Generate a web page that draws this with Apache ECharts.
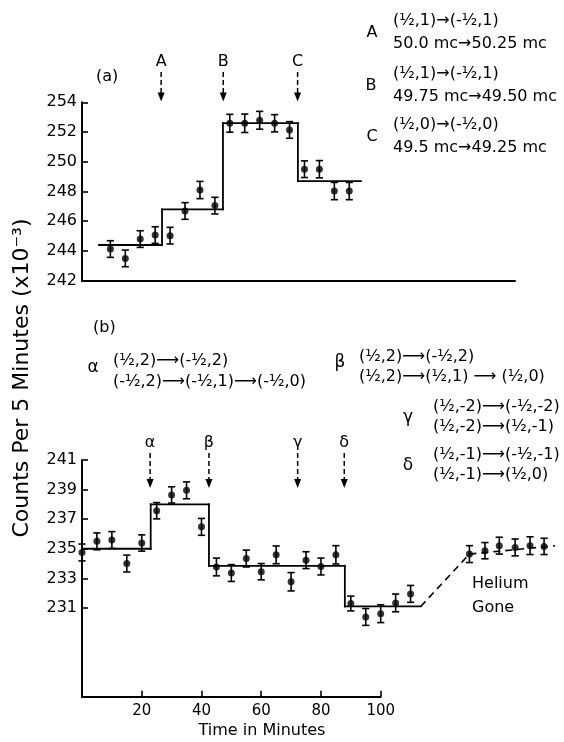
<!DOCTYPE html>
<html><head><meta charset="utf-8">
<script src="https://cdn.jsdelivr.net/npm/echarts@6/dist/echarts.min.js"></script>
<style>html,body{margin:0;padding:0;background:#fff}#c{width:564px;height:742px}</style>
</head><body><div id="c"></div>
<script>
// ---------- Panel (a) ----------
const aTimes = [9.5,14.5,19.5,24.5,29.5,34.5,39.5,44.5,49.5,54.5,59.5,64.5,69.5,74.5,79.5,84.5,89.5];
const aCounts = [244.13,243.5,244.8,245.07,245.03,246.69,248.1,247.05,252.59,252.59,252.79,252.59,252.14,249.5,249.5,248.03,248.03];
const aErrors = [0.56,0.56,0.56,0.56,0.56,0.56,0.58,0.56,0.6,0.62,0.6,0.58,0.56,0.56,0.58,0.58,0.58];
const aStepEdges = [5.7,26.8,47.2,72.3,93.4];
const aStepLevels = [244.4,246.8,252.6,248.7];
const aYTicks = [242,244,246,248,250,252,254];
const aArrowTimes = [26.5,47.3,72.2];
const aArrowLabels = ['A','B','C'];

// ---------- Panel (b) ----------
const bTimes = [0,5,10,15,20,25,30,35,40,45,50,55,60,65,70,75,80,85,90,95,100,105,110];
const bCounts = [234.75,235.5,235.59,234.0,235.39,237.57,238.64,238.95,236.48,233.77,233.36,234.34,233.45,234.59,232.77,234.23,233.8,234.59,231.3,230.39,230.61,231.34,231.95];
const bErrors = [0.57,0.57,0.57,0.57,0.55,0.55,0.55,0.57,0.57,0.6,0.57,0.57,0.55,0.6,0.62,0.57,0.57,0.62,0.5,0.57,0.6,0.6,0.57];
const bStepEdges = [0,23,42.5,88,113.4];
const bStepLevels = [235.0,238.0,233.85,231.1];
const heliumTimes = [129.7,134.9,139.7,145,150,154.7];
const heliumCounts = [234.64,234.87,235.21,235.09,235.21,235.16];
const heliumErrors = [0.57,0.55,0.57,0.57,0.6,0.55];
const heliumDashTimes = [113.4,129.7,158.4];
const heliumDashCounts = [231.1,234.64,235.2];
const bXTicks = [20,40,60,80,100];
const bYTicks = [231,233,235,237,239,241];
const bArrowTimes = [22.8,42.5,72.2,87.8];
const bArrowLabels = ['α','β','γ','δ'];

const FONT = 'DejaVu Sans';
const chart = echarts.init(document.getElementById('c'), null, {renderer:'canvas'});

function stepPoints(edges, levels){
  const out = [];
  for (let i = 0; i < levels.length; i++){
    out.push([edges[i], levels[i]]);
    out.push([edges[i+1], levels[i]]);
  }
  return out;
}
function segments(points){
  const out = [];
  for (let i = 0; i < points.length-1; i++){
    out.push([points[i][0], points[i][1], points[i+1][0], points[i+1][1]]);
  }
  return out;
}
function zip3(t, v, e){ return t.map((x,i)=>[x, v[i], e[i]]); }
function zip2(t, v){ return t.map((x,i)=>[x, v[i]]); }

function segItem(width, dash){
  return function(params, api){
    const p1 = api.coord([api.value(0), api.value(1)]);
    const p2 = api.coord([api.value(2), api.value(3)]);
    const st = {stroke:'#000', lineWidth:width, lineCap:dash?'butt':'square'};
    if (dash) st.lineDash = dash;
    return {type:'line', shape:{x1:p1[0],y1:p1[1],x2:p2[0],y2:p2[1]}, style:st};
  };
}
function errItem(params, api){
  const x = api.value(0), y = api.value(1), e = api.value(2);
  const top = api.coord([x, y+e]), bot = api.coord([x, y-e]);
  const w = 3.6, st = {stroke:'#000', lineWidth:1.6};
  return {type:'group', children:[
    {type:'line', shape:{x1:top[0],y1:top[1],x2:bot[0],y2:bot[1]}, style:st},
    {type:'line', shape:{x1:top[0]-w,y1:top[1],x2:top[0]+w,y2:top[1]}, style:st},
    {type:'line', shape:{x1:bot[0]-w,y1:bot[1],x2:bot[0]+w,y2:bot[1]}, style:st}
  ]};
}
function arrowItem(yTop, yBot, labels){
  return function(params, api){
    const x = api.value(0);
    const p1 = api.coord([x, yTop]), p2 = api.coord([x, yBot]);
    const px = p1[0];
    return {type:'group', children:[
      {type:'line', shape:{x1:px,y1:p1[1],x2:px,y2:p2[1]-7}, style:{stroke:'#000', lineWidth:1.5, lineDash:[5,3]}},
      {type:'polygon', shape:{points:[[px-3.5,p2[1]-9],[px+3.5,p2[1]-9],[px,p2[1]]]}, style:{fill:'#000'}},
      {type:'text', x:px, y:p1[1]-2, style:{text:labels[params.dataIndex], font:'16px "'+FONT+'"', fill:'#000', align:'center', verticalAlign:'bottom'}}
    ]};
  };
}
function txt(x, y, s, size, align){
  return {type:'text', x:x, y:y, style:{text:s, font:(size||16)+'px "'+FONT+'"', fill:'#000', align:align||'left', verticalAlign:'middle'}};
}

const axisLineStyle = {show:true, lineStyle:{color:'#000', width:2}};

const option = {
  backgroundColor:'#fff',
  animation:false,
  grid:[
    {left:82, top:102.3, width:433, height:178.4, containLabel:false, outerBoundsMode:'none'},
    {left:82, top:460, width:298.7, height:236.7, containLabel:false, outerBoundsMode:'none'}
  ],
  xAxis:[
    {type:'value', gridIndex:0, min:0, max:145, axisLine:axisLineStyle, axisTick:{show:false}, axisLabel:{show:false}, splitLine:{show:false}},
    {type:'value', gridIndex:1, min:0, max:100, interval:20, axisLine:axisLineStyle,
     axisTick:{show:true, inside:true, length:6, lineStyle:{color:'#000', width:1.6}, customValues:bXTicks},
     axisLabel:{show:true, margin:7, color:'#000', fontSize:15, fontFamily:FONT, customValues:bXTicks},
     splitLine:{show:false}}
  ],
  yAxis:[
    {type:'value', gridIndex:0, min:242, max:254, interval:2, axisLine:axisLineStyle,
     axisTick:{show:true, inside:true, length:6, lineStyle:{color:'#000', width:1.6}, customValues:aYTicks},
     axisLabel:{show:true, margin:5, color:'#000', fontSize:16, fontFamily:FONT, customValues:aYTicks},
     splitLine:{show:false}},
    {type:'value', gridIndex:1, min:225, max:241, interval:2, axisLine:axisLineStyle,
     axisTick:{show:true, inside:true, length:6, lineStyle:{color:'#000', width:1.6}, customValues:bYTicks},
     axisLabel:{show:true, margin:5, color:'#000', fontSize:16, fontFamily:FONT, customValues:bYTicks},
     splitLine:{show:false}}
  ],
  series:[
    {type:'custom', xAxisIndex:0, yAxisIndex:0, data:segments(stepPoints(aStepEdges, aStepLevels)), renderItem:segItem(1.8), clip:false, silent:true},
    {type:'custom', xAxisIndex:0, yAxisIndex:0, data:zip3(aTimes, aCounts, aErrors), renderItem:errItem, clip:false},
    {type:'scatter', xAxisIndex:0, yAxisIndex:0, data:zip2(aTimes, aCounts), symbolSize:7, itemStyle:{color:'#000'}},
    {type:'custom', xAxisIndex:0, yAxisIndex:0, data:aArrowTimes.map(t=>[t]), renderItem:arrowItem(256.04, 254.05, aArrowLabels), clip:false},

    {type:'custom', xAxisIndex:1, yAxisIndex:1, data:segments(stepPoints(bStepEdges, bStepLevels)), renderItem:segItem(1.8), clip:false, silent:true},
    {type:'custom', xAxisIndex:1, yAxisIndex:1, data:segments(zip2(heliumDashTimes, heliumDashCounts)), renderItem:segItem(1.6,[7,5]), clip:false, silent:true},
    {type:'custom', xAxisIndex:1, yAxisIndex:1, data:zip3(bTimes, bCounts, bErrors), renderItem:errItem, clip:false},
    {type:'custom', xAxisIndex:1, yAxisIndex:1, data:zip3(heliumTimes, heliumCounts, heliumErrors), renderItem:errItem, clip:false},
    {type:'scatter', xAxisIndex:1, yAxisIndex:1, data:zip2(bTimes, bCounts), symbolSize:7, itemStyle:{color:'#000'}, clip:false},
    {type:'scatter', xAxisIndex:1, yAxisIndex:1, data:zip2(heliumTimes, heliumCounts), symbolSize:7, itemStyle:{color:'#000'}, clip:false},
    {type:'custom', xAxisIndex:1, yAxisIndex:1, data:bArrowTimes.map(t=>[t]), renderItem:arrowItem(241.47, 239.1, bArrowLabels), clip:false}
  ],
  graphic:[
    txt(96, 77, '(a)', 16),
    txt(372, 33, 'A', 16, 'center'),
    txt(393, 21, '(½,1)→(-½,1)', 16),
    txt(393, 44, '50.0 mc→50.25 mc', 16),
    txt(371, 86, 'B', 16, 'center'),
    txt(393, 74, '(½,1)→(-½,1)', 16),
    txt(393, 97, '49.75 mc→49.50 mc', 16),
    txt(372, 137, 'C', 16, 'center'),
    txt(393, 125, '(½,0)→(-½,0)', 16),
    txt(393, 148, '49.5 mc→49.25 mc', 16),

    txt(93, 328, '(b)', 16),
    txt(93, 368, 'α', 17, 'center'),
    txt(113, 361, '(½,2)⟶(-½,2)', 16),
    txt(113, 382, '(-½,2)⟶(-½,1)⟶(-½,0)', 16),
    txt(340, 363, 'β', 17, 'center'),
    txt(359, 357, '(½,2)⟶(-½,2)', 16),
    txt(359, 377, '(½,2)⟶(½,1) ⟶ (½,0)', 16),
    txt(408, 418, 'γ', 17, 'center'),
    txt(433, 407, '(½,-2)⟶(-½,-2)', 16),
    txt(433, 427, '(½,-2)⟶(½,-1)', 16),
    txt(408, 466, 'δ', 17, 'center'),
    txt(433, 455, '(½,-1)⟶(-½,-1)', 16),
    txt(433, 475, '(½,-1)⟶(½,0)', 16),

    txt(472, 584, 'Helium', 16),
    txt(472, 608, 'Gone', 16),
    txt(262, 731, 'Time in Minutes', 16, 'center'),
    {type:'text', x:22, y:378, rotation:Math.PI/2, style:{text:'Counts Per 5 Minutes (x10⁻³)', font:'22px "'+FONT+'"', fill:'#000', align:'center', verticalAlign:'middle'}}
  ]
};
chart.setOption(option);
</script>
</body></html>
